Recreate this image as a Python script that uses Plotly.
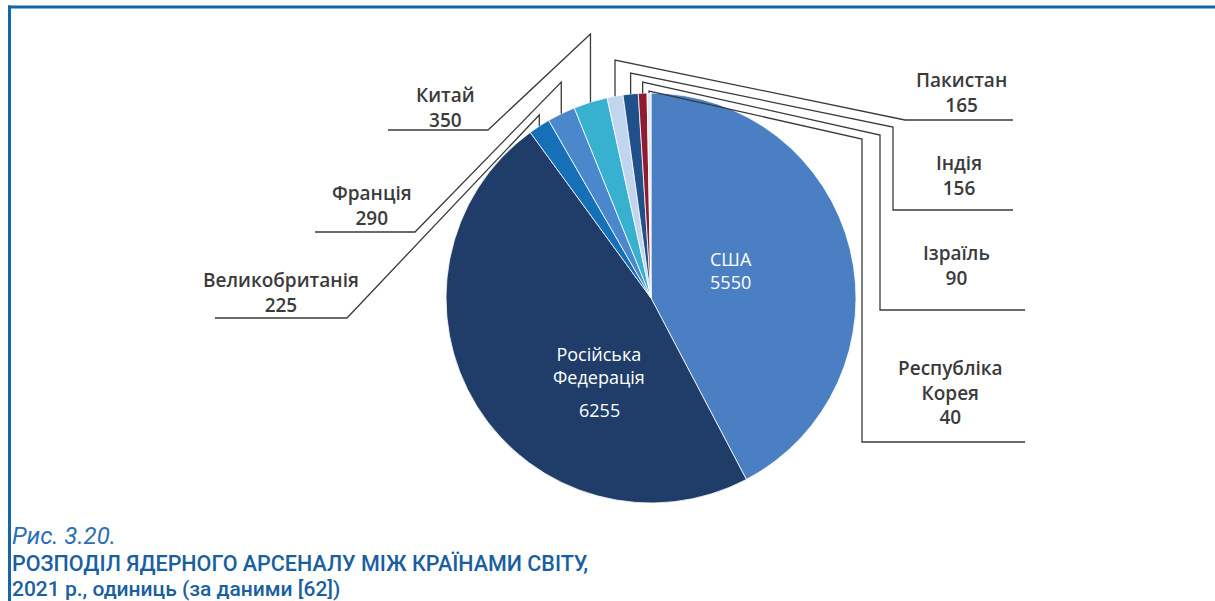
import math
import plotly.graph_objects as go

# ---------------- data ----------------
countries = ["США", "Російська Федерація", "Великобританія", "Франція", "Китай",
             "Пакистан", "Індія", "Ізраїль", "Республіка Корея"]
warheads = [5550, 6255, 225, 290, 350, 165, 156, 90, 40]
slice_colors = ["#4a80c3", "#1f3d68", "#1670b7", "#4a88cb", "#38b1d1",
                "#c1d5ee", "#20508a", "#8e1b30", "#e4eaf3"]

# outside label texts
outside_names = {2: "Великобританія", 3: "Франція", 4: "Китай", 5: "Пакистан",
                 6: "Індія", 7: "Ізраїль", 8: "Республіка<br>Корея"}

caption_1 = "Рис. 3.20."
caption_2 = "РОЗПОДІЛ ЯДЕРНОГО АРСЕНАЛУ МІЖ КРАЇНАМИ СВІТУ,"
caption_3 = "2021 р., одиниць (за даними [62])"

# ---------------- layout geometry ----------------
W, H = 1215, 601
CX, CY, R = 651, 298, 205


def px(x):
    return x / W


def py(y):
    return 1 - y / H


total = sum(warheads)
mid_angles = []
cum = 0
for v in warheads:
    mid_angles.append((cum + v / 2) / total * 2 * math.pi)
    cum += v


def edge(i):
    a = mid_angles[i]
    return CX + R * math.sin(a), CY - R * math.cos(a)


fig = go.Figure()
fig.add_trace(go.Pie(
    labels=countries, values=warheads, sort=False, direction="clockwise",
    rotation=0, marker=dict(colors=slice_colors, line=dict(color="white", width=0.8)),
    textinfo="none", hoverinfo="label+value", showlegend=False,
    domain=dict(x=[px(CX - R), px(CX + R)], y=[py(CY + R), py(CY - R)]),
))

# leader lines: vertical rise from slice, then elbow points to label underline
leaders = {
    2: (115, [(347, 318), (215, 318)]),
    3: (82, [(415, 232), (315, 232)]),
    4: (34, [(488, 130), (388, 130)]),
    5: (60, [(905, 120), (1013, 120)]),
    6: (73, [(893, 127), (893, 210), (1013, 210)]),
    7: (82, [(880, 135), (880, 310), (1025, 310)]),
    8: (91, [(862, 139), (862, 442), (1025, 442)]),
}
shapes = []
for i, (ytop, pts) in leaders.items():
    ex, ey = edge(i)
    path = f"M {px(ex)} {py(ey)} L {px(ex)} {py(ytop)}"
    for (x, y) in pts:
        path += f" L {px(x)} {py(y)}"
    shapes.append(dict(type="path", xref="paper", yref="paper", path=path,
                       line=dict(color="#3a3a3a", width=1.3)))

# frame lines
shapes.append(dict(type="line", xref="paper", yref="paper", x0=px(8), x1=1,
                   y0=py(7), y1=py(7), line=dict(color="#1565a8", width=3)))
shapes.append(dict(type="line", xref="paper", yref="paper", x0=px(9.5), x1=px(9.5),
                   y0=py(5.5), y1=0, line=dict(color="#1565a8", width=3)))

annotations = []
lab_font = dict(family="Open Sans", size=19, color="#3b3b3b", weight=600)
# (center x, center y of the whole label block)
label_pos = {
    2: (281, 292),
    3: (372, 206),
    4: (445, 107),
    5: (961, 93),
    6: (959, 176),
    7: (956, 265),
    8: (950, 392),
}
for i, (cx, cy) in label_pos.items():
    annotations.append(dict(x=px(cx), y=py(cy), xref="paper", yref="paper",
                            text=f"{outside_names[i]}<br>{warheads[i]}", showarrow=False,
                            xanchor="center", yanchor="middle", font=lab_font,
                            align="center"))

in_font = dict(family="Open Sans", size=18, color="white")
annotations += [
    dict(x=px(731), y=py(270), text=f"{countries[0]}<br>{warheads[0]}", font=in_font),
    dict(x=px(599), y=py(365), text="Російська<br>Федерація", font=in_font),
    dict(x=px(599), y=py(410), text=str(warheads[1]), font=in_font),
]
for a in annotations[-3:]:
    a.update(xref="paper", yref="paper", showarrow=False, xanchor="center",
             yanchor="middle", align="center")

annotations += [
    dict(x=px(10), y=py(536), text=f"<i>{caption_1}</i>",
         font=dict(family="Roboto", size=24, color="#2a6fb3", weight=400)),
    dict(x=px(10), y=py(563), text=caption_2,
         font=dict(family="Roboto", size=21.5, color="#1a5f9f", weight=500)),
    dict(x=px(10), y=py(589), text=caption_3,
         font=dict(family="Roboto", size=21, color="#1a5f9f", weight=500)),
]
for a in annotations[-3:]:
    a.update(xref="paper", yref="paper", showarrow=False, xanchor="left", yanchor="middle")

fig.update_layout(width=W, height=H, margin=dict(l=0, r=0, t=0, b=0),
                  paper_bgcolor="white", plot_bgcolor="white",
                  shapes=shapes, annotations=annotations)
fig.write_html("out.html", config={"displayModeBar": False},
               post_script="document.body.style.margin='0';")
